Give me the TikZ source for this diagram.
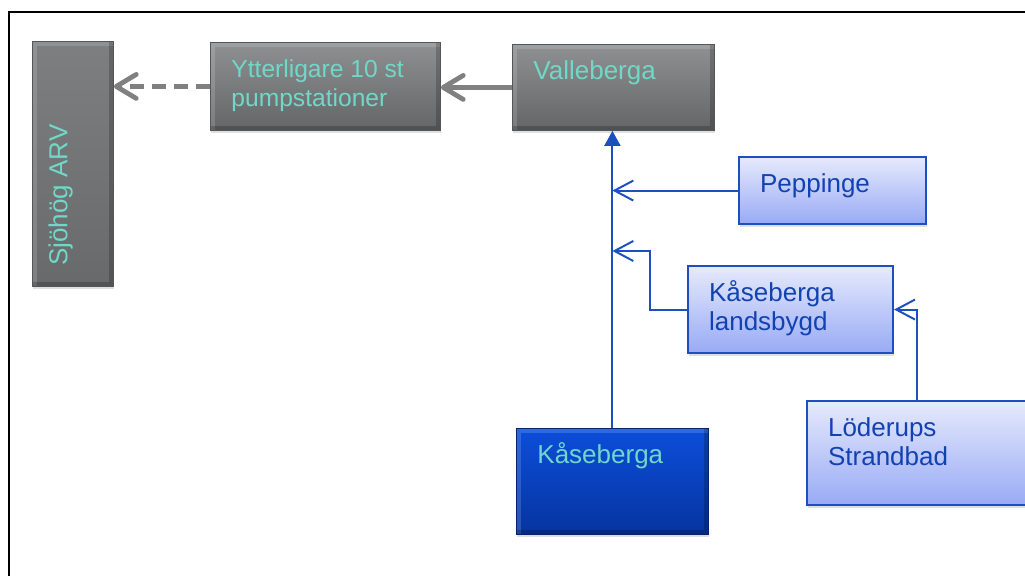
\documentclass[tikz,border=0pt]{standalone}
\usepackage{fontspec}
\setmainfont{Liberation Sans}
\usetikzlibrary{arrows.meta,calc,shadows}

\definecolor{greytop}{RGB}{142,144,145}
\definecolor{greybot}{RGB}{100,101,103}
\definecolor{greyline}{RGB}{128,128,128}
\definecolor{aqua}{RGB}{112,216,200}
\definecolor{paletop}{RGB}{230,234,252}
\definecolor{palebot}{RGB}{152,170,245}
\definecolor{bluedge}{RGB}{28,80,190}
\definecolor{bluetxt}{RGB}{18,66,178}
\definecolor{darktop}{RGB}{12,78,218}
\definecolor{darkbot}{RGB}{6,52,160}

% text sits in the top left corner of each box
\newcommand{\boxtxt}[3]{\parbox[c][#2][t]{#1}{\raggedright\leftskip=0.525cm\vspace*{0.35cm}\strut #3}}

\tikzset{
  bevel/.style={path picture={
    \draw[white,opacity=.15,line width=6pt] (path picture bounding box.south west) -- (path picture bounding box.north west) -- (path picture bounding box.north east);
    \draw[black,opacity=.2,line width=6pt] (path picture bounding box.north east) -- (path picture bounding box.south east) -- (path picture bounding box.south west);}},
  greybox/.style={draw=greybot!85!black, line width=0.6pt, top color=greytop, bottom color=greybot,
    text=aqua, inner sep=0pt, anchor=north west, bevel,
    drop shadow={shadow xshift=0.5pt, shadow yshift=-2pt, opacity=0.25}},
  darkbox/.style={greybox, draw=darkbot!70!black, top color=darktop, bottom color=darkbot},
  palebox/.style={draw=bluedge, line width=1.5pt, top color=paletop, bottom color=palebot,
    text=bluetxt, inner sep=0pt, anchor=north west,
    drop shadow={shadow xshift=0.5pt, shadow yshift=-2pt, opacity=0.25}},
  feed/.style={draw=bluedge, line width=1.4pt, -{Straight Barb[length=0.47cm,width=0.5cm]}},
  trunk/.style={draw=bluedge, line width=1.4pt, -{Triangle[length=0.375cm,width=0.4cm]}},
  greyarr/.style={draw=greyline, line width=3.4pt, -{Straight Barb[length=0.5cm,width=0.6cm,round]}},
}

\begin{document}
\begin{tikzpicture}[every node/.style={font=\fontsize{18.5}{21.3}\selectfont}]
  \useasboundingbox (0,0) rectangle (25.625,-14.4);
  \clip (0,0) rectangle (25.625,-14.4);
  \draw[line width=1.8pt] (0.225,-14.6) -- (0.225,-0.3) -- (25.8,-0.3);

  % grey chain
  \node[greybox, rotate=90, top color=greytop!60!greybot, bottom color=greybot!90!greytop] (sjo) at (0.8,-7.175) {\boxtxt{6.125cm}{2.025cm}{Sjöhög ARV}};
  \node[greybox, font=\fontsize{17.5}{21}\selectfont] (ytter) at (5.25,-1.05) {\boxtxt{5.75cm}{2.2cm}{Ytterligare 10 st\\pumpstationer}};
  \node[greybox] (valle) at (12.8,-1.1) {\boxtxt{5.05cm}{2.15cm}{Valleberga}};

  % blue boxes
  \node[palebox] (pepp) at (18.45,-3.9) {\boxtxt{4.675cm}{1.675cm}{Peppinge}};
  \node[palebox] (lands) at (17.175,-6.625) {\boxtxt{5.125cm}{2.175cm}{Kåseberga\\landsbygd}};
  \node[palebox] (lod) at (20.15,-10.0) {\boxtxt{6cm}{2.6cm}{Löderups\\Strandbad}};
  \node[darkbox] (kase) at (12.9,-10.7) {\boxtxt{4.8cm}{2.65cm}{Kåseberga}};

  % connectors
  \draw[greyarr] (valle.west) -- (valle.west -| ytter.east);
  \draw[greyarr, dash pattern=on 0.35cm off 0.2cm] (ytter.west) -- (ytter.west -| sjo.south);
  \draw[trunk] (kase.north) -- (kase.north |- valle.south);
  \draw[feed] (pepp.west) -- (pepp.west -| kase.north);
  \draw[feed] (lands.west) -- ++(-0.925,0) |- ([yshift=0.35cm]lands.north -| kase.north);
  \draw[feed] ([xshift=2.775cm]lod.north west) |- (lands.east);
\end{tikzpicture}
\end{document}
